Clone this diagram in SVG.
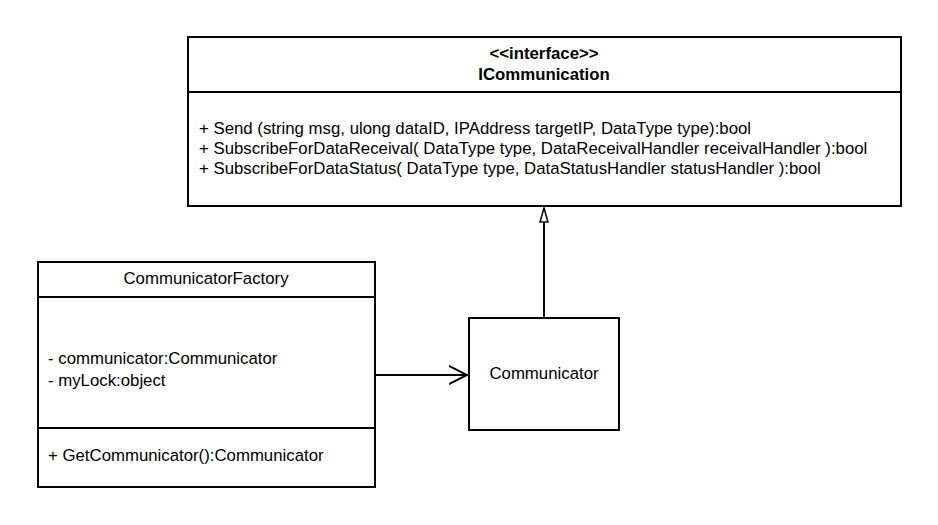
<svg xmlns="http://www.w3.org/2000/svg" width="938" height="525" viewBox="0 0 938 525">
<style>
.box{fill:#fff;stroke:#000;stroke-width:2}
.ln{stroke:#000;stroke-width:2;fill:none}
text{font-family:"Liberation Sans",Arial,sans-serif;font-size:16.8px;fill:#000}
.b{font-weight:bold}
.c{text-anchor:middle}
</style>
<defs>
<marker id="open" markerWidth="20" markerHeight="20" refX="18" refY="10" orient="auto" markerUnits="userSpaceOnUse">
<path d="M0,1 L18,10 L0,19" fill="none" stroke="#000" stroke-width="2"/>
</marker>
<marker id="tri" markerWidth="18" markerHeight="12" refX="15" refY="6" orient="auto" markerUnits="userSpaceOnUse">
<path d="M15,6 L1,10 L1,2 Z" fill="#fff" stroke="#000" stroke-width="1.5"/>
</marker>
</defs>
<g id="ICommunication">
<rect class="box" x="188" y="37" width="713" height="169"/>
<line class="ln" x1="188" y1="92" x2="901" y2="92"/>
<text class="b c" x="544" y="59">&lt;&lt;interface&gt;&gt;</text>
<text class="b c" x="544" y="80">ICommunication</text>
<text x="199" y="134">+ Send (string msg, ulong dataID, IPAddress targetIP, DataType type):bool</text>
<text x="199" y="154">+ SubscribeForDataReceival( DataType type, DataReceivalHandler receivalHandler ):bool</text>
<text x="199" y="174">+ SubscribeForDataStatus( DataType type, DataStatusHandler statusHandler ):bool</text>
</g>
<g id="CommunicatorFactory">
<rect class="box" x="38" y="262" width="337" height="225"/>
<line class="ln" x1="38" y1="297" x2="375" y2="297"/>
<line class="ln" x1="38" y1="428" x2="375" y2="428"/>
<text class="c" x="206" y="284">CommunicatorFactory</text>
<text x="48" y="364">- communicator:Communicator</text>
<text x="48" y="386">- myLock:object</text>
<text x="48" y="461">+ GetCommunicator():Communicator</text>
</g>
<g id="Communicator">
<rect class="box" x="469" y="318" width="150" height="112"/>
<text class="c" x="544" y="379">Communicator</text>
</g>
<g id="connectors">
<line class="ln" x1="375" y1="375" x2="467" y2="375" marker-end="url(#open)"/>
<line class="ln" x1="544" y1="318" x2="544" y2="208" marker-end="url(#tri)"/>
</g>
</svg>
